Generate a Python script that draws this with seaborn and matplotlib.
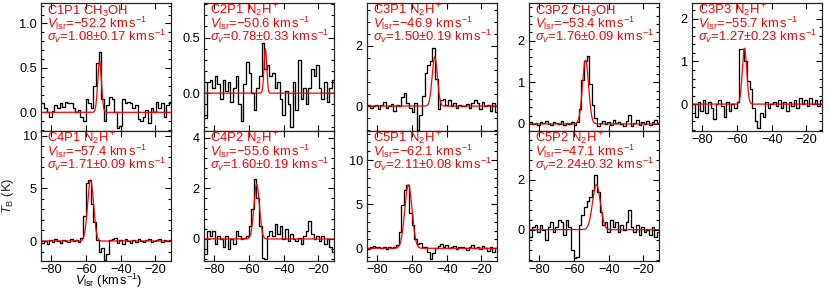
import numpy as np
import pandas as pd
import matplotlib
matplotlib.use("Agg")
import matplotlib.pyplot as plt
import seaborn as sns
from matplotlib.ticker import MultipleLocator

# ---------------- data ----------------
channels = np.arange(-86.5, -10.0, 1.5)   # channel velocities (km/s)

c1p1 = [0.12, 0.10, 0.05, 0.0, -0.05, 0.02, 0.08, 0.05, 0.10, 0.06, 0.12, 0.11, 0.10,
        0.05, 0.0, 0.03, -0.05, -0.10, 0.15, 0.10, 0.05, 0.30, 0.55, 0.68, 0.15, -0.10,
        0.08, 0.17, 0.15, 0.0, -0.18, -0.15, 0.15, 0.10, 0.12, 0.10, 0.05, 0.08, -0.08,
        -0.10, -0.05, 0.03, -0.12, 0.05, 0.0, 0.12, 0.05, 0.10, -0.05, 0.08, 0.12]
c2p1 = [0.19, -0.22, 0.10, 0.12, 0.05, 0.15, 0.08, -0.05, 0.12, 0.02, 0.10, -0.08, 0.05,
        0.15, -0.10, -0.25, 0.08, 0.28, 0.18, 0.0, -0.15, 0.05, 0.15, 0.45, 0.22, 0.25,
        0.15, 0.18, 0.05, 0.10, -0.05, -0.20, 0.02, -0.10, -0.30, 0.10, -0.15, 0.30, -0.05,
        0.05, -0.10, 0.05, 0.22, 0.15, 0.25, 0.05, -0.05, 0.10, -0.08, 0.05, 0.12]
c3p1 = [0.0, 0.05, -0.05, 0.0, 0.02, -0.1, 0.05, 0.15, -0.05, 0.0, 0.08, -0.15, 0.05,
        0.0, 0.3, 0.45, 0.1, -0.05, -0.2, 0.1, -0.8, -0.3, 0.35, 1.1, 1.35, 1.5, 1.92,
        0.9, -0.1, 0.2, 0.25, 0.05, 0.2, 0.0, 0.1, -0.05, 0.05, 0.0, 0.0, 0.08, -0.05,
        0.1, 0.2, 0.1, -0.1, 0.15, 0.0, 0.05, -0.15, 0.1, -0.2]
c3p2 = [0.02, 0.05, 0.0, 0.03, -0.02, 0.05, 0.02, 0.08, 0.0, -0.03, 0.05, 0.02, 0.0,
        0.06, -0.02, 0.03, 0.0, 0.05, -0.03, 0.05, 0.35, 1.05, 1.5, 1.62, 0.95, 0.45,
        0.15, -0.05, 0.02, 0.08, 0.0, 0.05, -0.03, 0.1, 0.02, 0.05, 0.0, -0.05, 0.08,
        0.22, -0.05, 0.03, 0.1, -0.02, 0.05, 0.0, 0.08, -0.03, 0.05, 0.1, 0.02]
c3p3 = [-0.1, 0.0, -0.3, 0.05, -0.15, 0.1, -0.2, 0.05, -0.1, -0.35, 0.0, 0.1, -0.05,
        -0.3, 0.05, -0.15, 0.0, -0.1, 0.05, 1.3, 1.3, 1.0, 0.55, 0.35, -0.1, -0.4, -0.55,
        -0.2, -0.3, 0.05, -0.1, 0.0, 0.05, -0.05, 0.1, -0.1, 0.05, -0.15, 0.05, -0.05,
        0.1, -0.1, 0.15, 0.0, 0.1, -0.05, 0.15, 0.0, 0.1, -0.05, 0.1]
c4p1 = [0.1, -0.2, 0.0, -0.3, 0.1, -0.1, 0.2, 0.0, -0.2, 0.1, 0.0, -0.1, 0.2, 0.0, 0.1,
        -0.1, 0.3, 2.4, 5.5, 5.8, 3.5, 1.8, 0.1, -1.0, -0.7, -1.8, -1.2, 0.1, 0.2, 0.3,
        -0.2, 0.1, -0.3, 0.2, 0.0, -0.2, 0.1, -0.1, 0.2, 0.0, -0.1, 0.1, 0.2, -0.1, 0.0,
        0.1, 0.2, -0.1, 0.1, 0.0, 0.1]
c4p2 = [0.0, -0.6, 0.3, 0.1, 0.3, -0.2, 0.1, 0.0, -0.3, 0.1, -0.4, 0.0, -0.2, 0.3, 0.1,
        0.0, 0.05, 0.1, 0.5, 1.2, 2.35, 1.6, 0.5, -0.75, -0.8, 0.1, 0.3, 0.1, 0.6, 0.2,
        0.5, 0.0, 0.4, -0.1, 0.2, 0.0, -0.1, 0.05, -0.2, 0.1, 0.3, 0.7, 0.2, 0.0, 0.1,
        -0.1, 0.1, -0.2, 0.0, -0.3, -0.5]
c5p1 = [0.1, -0.1, 0.2, 0.3, 0.1, 0.2, 0.0, 0.2, -0.1, 0.1, 0.0, 0.2, 0.4, 1.8, 4.9,
        6.6, 7.2, 4.0, 2.6, 1.1, 0.5, 0.6, 0.2, 0.1, -0.4, -1.2, -0.5, 0.0, 0.3, 0.5,
        0.1, 0.4, 0.0, 0.2, 0.3, -0.1, 0.1, 0.2, 0.0, -0.2, 0.1, 0.4, 0.0, 0.2, -0.1,
        0.3, 0.0, -0.3, 0.1, -0.4, 0.0]
c5p2 = [0.3, -0.3, 0.1, 0.2, -0.1, 0.2, 0.0, -0.4, 0.1, 0.3, -0.1, 0.1, 0.4, 0.3, -0.2,
        0.4, 0.1, -0.8, -1.15, -1.1, 0.2, 0.6, 0.9, 1.15, 1.3, 1.6, 2.2, 1.5, 0.7, 0.2,
        0.3, -0.1, 0.4, 0.1, 0.3, -0.1, 0.2, 0.0, 0.3, 0.8, 0.1, -0.1, 0.2, -0.2, 0.1,
        -0.1, 0.0, -0.2, 0.1, -0.3, -0.1]

names = ["C1P1", "C2P1", "C3P1", "C3P2", "C3P3", "C4P1", "C4P2", "C5P1", "C5P2"]
molecules = ["CH$_3$OH", "N$_2$H$^+$", "N$_2$H$^+$", "CH$_3$OH", "N$_2$H$^+$",
             "N$_2$H$^+$", "N$_2$H$^+$", "N$_2$H$^+$", "N$_2$H$^+$"]
vlsr = [-52.2, -50.6, -46.9, -53.4, -55.7, -57.4, -55.6, -62.1, -47.1]
sigma = [1.08, 0.78, 1.50, 1.76, 1.27, 1.71, 1.60, 2.11, 2.24]
sigma_err = [0.17, 0.33, 0.19, 0.09, 0.23, 0.09, 0.19, 0.08, 0.32]
fit_amp = [0.58, 0.40, 1.64, 1.53, 1.31, 5.8, 2.16, 7.2, 1.82]
spectra = [c1p1, c2p1, c3p1, c3p2, c3p3, c4p1, c4p2, c5p1, c5p2]
ylims = [(-0.21, 1.23), (-0.34, 0.81), (-0.83, 3.43), (-0.17, 2.9), (-0.63, 2.37),
         (-1.9, 10.45), (-0.87, 4.26), (-1.44, 13.3), (-1.26, 3.97)]
ymajor = [0.5, 0.5, 2, 1, 1, 5, 2, 5, 2]
xticks = [-80, -60, -40, -20]
xlim = (-86, -11)

# ---------------- style ----------------
sns.set_theme(style="ticks")
plt.rcParams["font.family"] = ["Liberation Sans", "DejaVu Sans"]
plt.rcParams["mathtext.fontset"] = "custom"
plt.rcParams["mathtext.rm"] = "Liberation Sans"
plt.rcParams["mathtext.it"] = "Liberation Sans:italic"
plt.rcParams["mathtext.bf"] = "Liberation Sans:bold"
plt.rcParams["axes.linewidth"] = 0.9

W, H = 830, 291
fig = plt.figure(figsize=(W / 100, H / 100), dpi=100)

col_left = [41, 204, 367, 529, 692]
pw = 130
top_row = (3, 131)
bot_row = (131, 261)
layout = [(0, 0), (1, 0), (2, 0), (3, 0), (4, 0), (0, 1), (1, 1), (2, 1), (3, 1)]

fs_txt = 9.4
fs_tick = 9.2
PT = 0.72  # points per pixel at 100 dpi
for i, (col, row) in enumerate(layout):
    y0, y1 = top_row if row == 0 else bot_row
    ax = fig.add_axes([col_left[col] / W, 1 - y1 / H, pw / W, (y1 - y0) / H])
    df = pd.DataFrame({"v": channels, "T": spectra[i]})
    sns.lineplot(data=df, x="v", y="T", ax=ax, color="black", lw=0.95,
                 drawstyle="steps-mid", estimator=None, sort=False)
    vf = np.linspace(xlim[0] - 2, xlim[1] + 2, 600)
    model = fit_amp[i] * np.exp(-0.5 * ((vf - vlsr[i]) / sigma[i]) ** 2)
    sns.lineplot(x=vf, y=model, ax=ax, color="red", lw=0.9, estimator=None, sort=False)
    ax.set_xlim(*xlim)
    ax.set_ylim(*ylims[i])
    ax.set_xticks(xticks)
    ax.yaxis.set_major_locator(MultipleLocator(ymajor[i]))
    ax.yaxis.set_minor_locator(MultipleLocator(ymajor[i] / 5))
    ax.tick_params(which="both", direction="in", top=True, right=True,
                   labelsize=fs_tick, width=0.8, colors="black")
    ax.tick_params(axis="y", pad=3)
    ax.tick_params(axis="x", pad=2.5)
    ax.tick_params(which="major", length=4)
    ax.tick_params(which="minor", length=2)
    ax.set_xlabel("")
    ax.set_ylabel("")
    show_x = (row == 1) or (col == 4)
    if not show_x:
        ax.tick_params(labelbottom=False)
    lines = [f"{names[i]} {molecules[i]}",
             f"$V_{{\\rm lsr}}$=$-${abs(vlsr[i]):.1f} km$\\,$s$^{{-1}}$",
             f"$\\sigma_v$={sigma[i]:.2f}$\\pm${sigma_err[i]:.2f} km$\\,$s$^{{-1}}$"]
    for k, (line, base) in enumerate(zip(lines, [11.5, 25, 38])):
        ax.annotate(line, xy=(0, 1), xycoords="axes fraction",
                    xytext=(5.5 * PT, -base * PT), textcoords="offset points",
                    ha="left", va="baseline", color="red", fontsize=fs_txt)
    if i == 5:
        ax.set_ylabel("$T_{\\rm B}$ (K)", fontsize=fs_txt, labelpad=5)

fig.text(109 / W, 1.0 / H, "$V_{\\rm lsr}$ (km$\\,$s$^{-1}$)", fontsize=9.2,
         ha="center", va="bottom", color="black")

fig.savefig("out.png", dpi=100)
